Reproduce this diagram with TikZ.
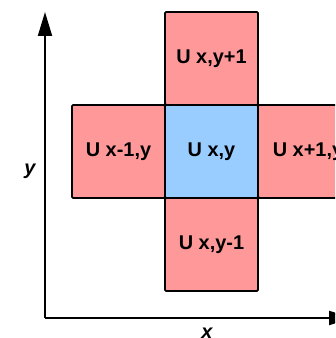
\documentclass[tikz,border=0pt]{standalone}
\usepackage{fontspec}
\setmainfont{Liberation Sans}
\usetikzlibrary{arrows.meta,positioning}

\tikzset{
  cell/.style={draw=black, line width=1.6pt, rounded corners=1pt,
    minimum width=2.79cm, minimum height=2.79cm, outer sep=0pt,
    inner sep=0pt, font=\fontsize{17}{18}\selectfont\bfseries},
  nbcell/.style={cell, fill=nbpink},
  axis/.style={line width=1.6pt, -{Triangle[length=0.72cm,width=0.42cm]}},
  axislabel/.style={font=\fontsize{17}{18}\selectfont\bfseries\itshape}
}
\definecolor{nbpink}{HTML}{FF9999}
\definecolor{cellblue}{HTML}{99CCFF}

\begin{document}
\begin{tikzpicture}[x=0.03cm, y=0.03cm]
        \useasboundingbox (0,0) rectangle (335,338);
        \clip (0,0) rectangle (335,338);

        % osy
        \coordinate (o) at (45,20);
        \coordinate (ytip) at (45,326);
        \coordinate (xtip) at (353,20);
        \draw[axis] (o) -- (ytip);
        \draw[axis] (o) -- (xtip);

        % popisky os
        \node[axislabel] (ylab) at (30,167) {y};
        \node[axislabel] (xlab) at (207,5) {x};

        % buňky
        \node[cell, fill=cellblue] (c) at (211.5,186.5) {U x,y};
        \node[nbcell, above=0pt of c] (n) {U x,y+1};
        \node[nbcell, below=0pt of c] (s) {U x,y-1};
        \node[nbcell, left=0pt of c] (w) {U x-1,y};
        \node[nbcell, right=0pt of c, minimum width=3cm] (e) {U x+1,y};
        \draw[line width=1.6pt] (c.north west) rectangle (c.south east);
\end{tikzpicture}
\end{document}
